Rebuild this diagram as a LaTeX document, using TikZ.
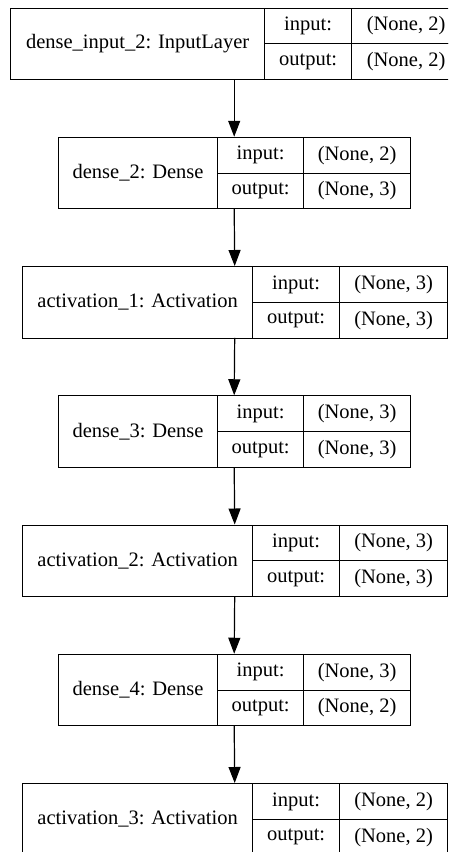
\documentclass[tikz,border=0pt]{standalone}
\usepackage{fontspec}
\setmainfont{Liberation Serif}
\usetikzlibrary{arrows.meta}
\tikzset{
  cell/.style={draw=black, line width=1.2pt, inner sep=0pt, anchor=north west,
               font=\fontsize{20.5pt}{24pt}\selectfont},
  outline/.style={inner sep=0pt, anchor=north west, minimum height=71.5pt},
  flow/.style={draw=black, line width=1.2pt, -{Triangle[length=16pt,width=12pt]}}
}
% #1 id, #2 top, #3 x0, #4 x1, #5 x2, #6 x3, #7 label, #8 input shape, #9 output shape
\newcommand{\layerbox}[9]{%
  \node[outline, minimum width={#6pt-#3pt}] (#1) at (#3,#2) {};
  \node[cell, minimum width={#4pt-#3pt}, minimum height=71.5pt] (#1name) at (#3,#2) {#7};
  \node[cell, minimum width={#5pt-#4pt}, minimum height=35.75pt] (#1inl) at (#4,#2) {input:};
  \node[cell, minimum width={#5pt-#4pt}, minimum height=35.75pt] (#1outl) at (#4,{#2+35.75}) {output:};
  \node[cell, minimum width={#6pt-#5pt}, minimum height=35.75pt] (#1inv) at (#5,#2) {#8};
  \node[cell, minimum width={#6pt-#5pt}, minimum height=35.75pt] (#1outv) at (#5,{#2+35.75}) {#9};
}
\begin{document}
\begin{tikzpicture}[x=1pt,y=-1pt]
  \useasboundingbox (0,0) rectangle (448,852);
  \fill[white] (0,0) rectangle (448,852);
  \clip (0,0) rectangle (448,852);
  \layerbox{b1}{7.5}{10}{264}{351}{460}{dense\_input\_2: InputLayer}{(None, 2)}{(None, 2)}
  \layerbox{b2}{136.75}{58}{217}{303}{410}{dense\_2: Dense}{(None, 2)}{(None, 3)}
  \layerbox{b3}{266}{22}{252}{339}{447}{activation\_1: Activation}{(None, 3)}{(None, 3)}
  \layerbox{b4}{395.25}{58}{217}{303}{410}{dense\_3: Dense}{(None, 3)}{(None, 3)}
  \layerbox{b5}{524.5}{22}{252}{339}{447}{activation\_2: Activation}{(None, 3)}{(None, 3)}
  \layerbox{b6}{653.75}{58}{217}{303}{410}{dense\_4: Dense}{(None, 3)}{(None, 2)}
  \layerbox{b7}{783}{22}{252}{339}{447}{activation\_3: Activation}{(None, 2)}{(None, 2)}
  \draw[flow] (b1name.south -| b2.north) -- (b2.north);
  \draw[flow] (b2.south) -- (b3.north);
  \draw[flow] (b3.south) -- (b4.north);
  \draw[flow] (b4.south) -- (b5.north);
  \draw[flow] (b5.south) -- (b6.north);
  \draw[flow] (b6.south) -- (b7.north);
\end{tikzpicture}
\end{document}
